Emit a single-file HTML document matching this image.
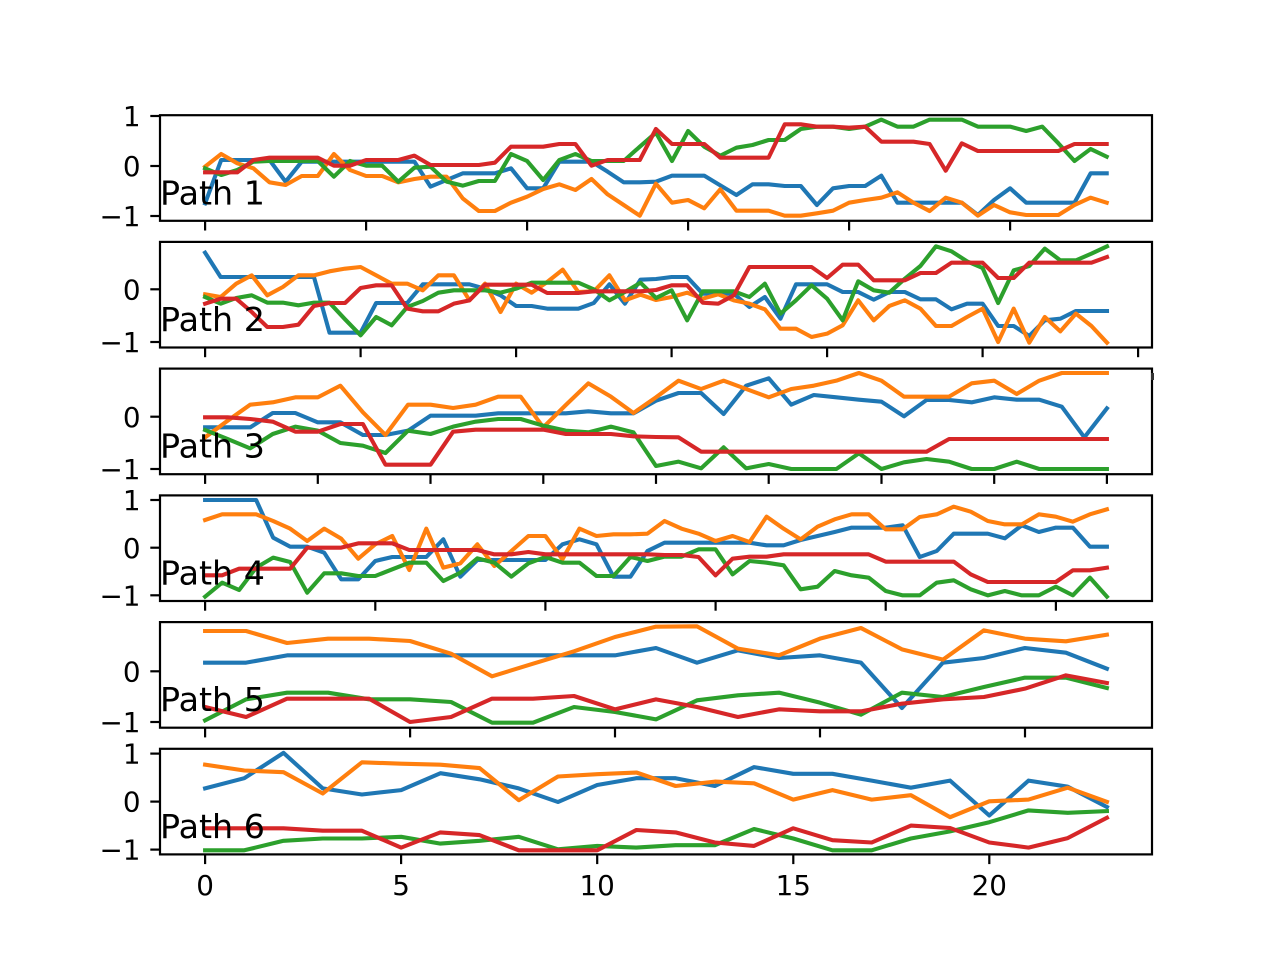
<!DOCTYPE html>
<html>
<head>
<meta charset="utf-8">
<style>
html,body{margin:0;padding:0;background:#fff;}
svg{display:block;}
text{font-family:"DejaVu Sans","Liberation Sans",sans-serif;fill:#000;}
.tl{font-size:27.8px;}
.pl{font-size:33.3px;}
polyline{fill:none;stroke-width:4.1;stroke-linejoin:round;stroke-linecap:square;}
.b{stroke:#1f77b4;} .o{stroke:#ff7f0e;} .g{stroke:#2ca02c;} .r{stroke:#d62728;}
.sp{fill:none;stroke:#000;stroke-width:2.2;}
.tk{stroke:#000;stroke-width:2.2;}
</style>
</head>
<body>
<svg width="1280" height="960" viewBox="0 0 1280 960" xmlns="http://www.w3.org/2000/svg">
<rect x="0" y="0" width="1280" height="960" fill="#fff"/>

<!-- Subplot 1 -->
<g transform="translate(205.1,105) scale(16.1,0.33333)">
<polyline vector-effect="non-scaling-stroke" class="b" points="0,295 1,165 2,165 3,165 4,165 5,230 6,170 7,170 8,170 9,170 10,170 11,170 12,170 13,170 14,245 15,225 16,205 17,205 18,205 19,190 20,250 21,250 22,170 23,170 24,170 25,200 26,232 27,232 28,230 29,212 30,212 31,212 32,241 33,270 34,238 35,238 36,243 37,243 38,300 39,250 40,243 41,243 42,212 43,293 44,293 45,293 46,293 47,293 48,330 49,285 50,250 51,293 52,293 53,293 54,293 55,205 56,205"/>
<polyline vector-effect="non-scaling-stroke" class="o" points="0,185 1,147 2,175 3,190 4,232 5,240 6,213 7,213 8,147 9,195 10,213 11,213 12,232 13,222 14,215 15,215 16,280 17,318 18,318 19,293 20,275 21,252 22,238 23,255 24,222 25,268 26,300 27,332 28,236 29,293 30,285 31,310 32,253 33,317 34,317 35,317 36,332 37,332 38,325 39,317 40,293 41,285 42,278 43,262 44,293 45,318 46,278 47,293 48,332 49,300 50,322 51,330 52,330 53,330 54,300 55,278 56,293"/>
<polyline vector-effect="non-scaling-stroke" class="g" points="0,190 1,210 2,195 3,170 4,168 5,168 6,168 7,168 8,215 9,168 10,182 11,182 12,230 13,188 14,185 15,230 16,242 17,228 18,228 19,147 20,168 21,225 22,165 23,147 24,168 25,168 26,168 27,125 28,83 29,168 30,78 31,125 32,152 33,128 34,120 35,105 36,105 37,72 38,65 39,65 40,72 41,65 42,44 43,65 44,65 45,44 46,44 47,44 48,65 49,65 50,65 51,78 52,65 53,115 54,168 55,132 56,155"/>
<polyline vector-effect="non-scaling-stroke" class="r" points="0,202 1,202 2,202 3,165 4,158 5,158 6,158 7,158 8,182 9,182 10,165 11,165 12,165 13,152 14,180 15,180 16,180 17,180 18,173 19,125 20,125 21,125 22,117 23,117 24,182 25,165 26,165 27,165 28,72 29,117 30,117 31,117 32,158 33,158 34,158 35,158 36,58 37,58 38,65 39,65 40,68 41,65 42,110 43,110 44,110 45,117 46,197 47,115 48,138 49,138 50,138 51,138 52,138 53,138 54,117 55,117 56,117"/>
</g>

<!-- Subplot 2 -->
<g transform="translate(205.1,232) scale(15.55,0.33333)">
<polyline vector-effect="non-scaling-stroke" class="b" points="0,62 1,135 2,135 3,135 4,135 5,135 6,135 7,135 8,302 9,302 10,302 11,213 12,213 13,213 14,157 15,157 16,157 17,157 18,170 19,190 20,222 21,222 22,230 23,230 24,230 25,213 26,157 27,215 28,143 29,141 30,135 31,135 32,185 33,185 34,185 35,225 36,195 37,260 38,157 39,157 40,157 41,180 42,180 43,203 44,180 45,180 46,202 47,202 48,232 49,215 50,215 51,282 52,282 53,312 54,265 55,260 56,237 57,237 58,237"/>
<polyline vector-effect="non-scaling-stroke" class="o" points="0,187 1,195 2,155 3,130 4,190 5,165 6,130 7,130 8,118 9,110 10,105 11,130 12,155 13,155 14,175 15,130 16,130 17,205 18,155 19,240 20,155 21,182 22,150 23,113 24,180 25,178 26,130 27,205 28,188 29,204 30,195 31,182 32,200 33,187 34,205 35,215 36,232 37,290 38,290 39,315 40,305 41,280 42,205 43,265 44,222 45,205 46,230 47,282 48,282 49,255 50,230 51,330 52,230 53,332 54,255 55,298 56,245 57,282 58,332"/>
<polyline vector-effect="non-scaling-stroke" class="g" points="0,195 1,215 2,198 3,190 4,212 5,212 6,220 7,212 8,212 9,262 10,310 11,255 12,280 13,225 14,207 15,182 16,175 17,175 18,175 19,182 20,170 21,152 22,152 23,152 24,152 25,172 26,205 27,180 28,152 29,198 30,175 31,265 32,178 33,178 34,178 35,195 36,155 37,245 38,205 39,160 40,200 41,265 42,148 43,175 44,182 45,140 46,102 47,43 48,58 49,88 50,108 51,213 52,115 53,102 54,50 55,85 56,85 57,65 58,43"/>
<polyline vector-effect="non-scaling-stroke" class="r" points="0,215 1,200 2,200 3,240 4,285 5,285 6,278 7,222 8,213 9,213 10,168 11,160 12,160 13,230 14,238 15,238 16,215 17,205 18,158 19,158 20,158 21,158 22,183 23,183 24,183 25,178 26,178 27,178 28,178 29,174 30,160 31,160 32,212 33,215 34,190 35,105 36,105 37,105 38,105 39,105 40,138 41,98 42,98 43,145 44,145 45,145 46,123 47,123 48,92 49,92 50,92 51,138 52,138 53,92 54,92 55,92 56,92 57,92 58,75"/>
</g>

<!-- Subplot 3 -->
<g transform="translate(205.1,359) scale(22.545,0.33333)">
<polyline vector-effect="non-scaling-stroke" class="b" points="0,205 1,205 2,205 3,162 4,162 5,190 6,190 7,228 8,228 9,215 10,170 11,170 12,170 13,163 14,163 15,163 16,163 17,157 18,163 19,163 20,125 21,102 22,102 23,165 24,80 25,58 26,137 27,108 28,115 29,122 30,128 31,172 32,123 33,123 34,130 35,115 36,122 37,122 38,143 39,235 40,148"/>
<polyline vector-effect="non-scaling-stroke" class="o" points="0,235 1,185 2,137 3,130 4,115 5,115 6,80 7,160 8,228 9,137 10,137 11,147 12,137 13,113 14,113 15,205 16,138 17,73 18,113 19,162 20,115 21,65 22,90 23,65 24,90 25,115 26,90 27,80 28,65 29,42 30,65 31,113 32,113 33,113 34,73 35,65 36,105 37,65 38,42 39,42 40,42"/>
<polyline vector-effect="non-scaling-stroke" class="g" points="0,213 1,240 2,268 3,225 4,203 5,215 6,252 7,260 8,282 9,215 10,225 11,203 12,188 13,180 14,180 15,200 16,215 17,220 18,203 19,220 20,321 21,308 22,328 23,265 24,328 25,315 26,330 27,330 28,330 29,283 30,330 31,310 32,300 33,308 34,330 35,330 36,308 37,330 38,330 39,330 40,330"/>
<polyline vector-effect="non-scaling-stroke" class="r" points="0,175 1,175 2,180 3,188 4,218 5,218 6,195 7,195 8,317 9,317 10,317 11,218 12,212 13,212 14,212 15,212 16,225 17,225 18,225 19,232 20,234 21,235 22,278 23,278 24,278 25,278 26,278 27,278 28,278 29,278 30,278 31,278 32,278 33,240 34,240 35,240 36,240 37,240 38,240 39,240 40,240"/>
</g>

<!-- Subplot 4 -->
<g transform="translate(205.1,486) scale(17.015,0.33333)">
<polyline vector-effect="non-scaling-stroke" class="b" points="0,42 1,42 2,42 3,42 4,155 5,182 6,182 7,200 8,280 9,280 10,225 11,213 12,213 13,213 14,160 15,272 16,222 17,222 18,222 19,222 20,222 21,175 22,160 23,175 24,272 25,272 26,195 27,170 28,170 29,170 30,170 31,170 32,170 33,178 34,178 35,162 36,150 37,138 38,125 39,125 40,125 41,118 42,213 43,195 44,143 45,143 46,143 47,157 48,118 49,138 50,125 51,125 52,182 53,182"/>
<polyline vector-effect="non-scaling-stroke" class="o" points="0,102 1,85 2,85 3,85 4,105 5,128 6,165 7,128 8,158 9,218 10,175 11,150 12,252 13,128 14,245 15,232 16,175 17,240 18,195 19,150 20,150 21,220 22,128 23,150 24,145 25,145 26,143 27,105 28,128 29,143 30,165 31,150 32,168 33,92 34,128 35,160 36,122 37,100 38,85 39,85 40,130 41,130 42,93 43,85 44,62 45,77 46,105 47,115 48,115 49,85 50,92 51,107 52,85 53,70"/>
<polyline vector-effect="non-scaling-stroke" class="g" points="0,332 1,290 2,312 3,245 4,215 5,228 6,320 7,262 8,262 9,270 10,270 11,250 12,230 13,230 14,285 15,260 16,217 17,230 18,272 19,232 20,213 21,230 22,230 23,270 24,270 25,213 26,225 27,212 28,212 29,190 30,190 31,265 32,225 33,230 34,238 35,310 36,302 37,255 38,268 39,275 40,315 41,328 42,328 43,290 44,283 45,310 46,328 47,315 48,328 49,328 50,302 51,328 52,275 53,332"/>
<polyline vector-effect="non-scaling-stroke" class="r" points="0,268 1,268 2,248 3,248 4,248 5,248 6,185 7,185 8,185 9,172 10,172 11,172 12,192 13,192 14,192 15,192 16,192 17,205 18,205 19,198 20,205 21,205 22,205 23,205 24,205 25,205 26,205 27,207 28,207 29,213 30,268 31,218 32,212 33,212 34,205 35,205 36,205 37,205 38,205 39,205 40,227 41,227 42,227 43,227 44,227 45,265 46,288 47,288 48,288 49,288 50,288 51,253 52,253 53,245"/>
</g>

<!-- Subplot 5 -->
<g transform="translate(205.1,612) scale(40.99,0.33333)">
<polyline vector-effect="non-scaling-stroke" class="b" points="0,152 1,152 2,130 3,130 4,130 5,130 6,130 7,130 8,130 9,130 10,130 11,108 12,152 13,115 14,138 15,130 16,152 17,288 18,152 19,138 20,108 21,122 22,170"/>
<polyline vector-effect="non-scaling-stroke" class="o" points="0,57 1,57 2,93 3,80 4,80 5,87 6,125 7,193 8,155 9,118 10,75 11,44 12,43 13,110 14,130 15,80 16,48 17,112 18,143 19,55 20,80 21,88 22,68"/>
<polyline vector-effect="non-scaling-stroke" class="g" points="0,325 1,262 2,242 3,242 4,262 5,262 6,270 7,332 8,332 9,285 10,300 11,322 12,265 13,250 14,242 15,272 16,308 17,242 18,255 19,225 20,197 21,197 22,228"/>
<polyline vector-effect="non-scaling-stroke" class="r" points="0,285 1,315 2,260 3,260 4,260 5,330 6,315 7,260 8,260 9,252 10,292 11,262 12,285 13,315 14,292 15,298 16,298 17,275 18,262 19,255 20,230 21,190 22,213"/>
</g>

<!-- Subplot 6 -->
<g transform="translate(205.1,0) scale(39.21,1)">
<polyline vector-effect="non-scaling-stroke" class="b" points="0,788.4 1,778.2 2,752.9 3,788.4 4,794.5 5,790.1 6,773.2 7,779.3 8,788.4 9,802 10,785 11,778.2 12,778.2 13,786 14,767.1 15,773.8 16,773.8 17,780.6 18,787.7 19,780.6 20,815.5 21,780.6 22,786.7 23,807"/>
<polyline vector-effect="non-scaling-stroke" class="o" points="0,764.7 1,770.5 2,772.2 3,793.5 4,762.3 5,763.7 6,764.7 7,768.1 8,800.2 9,776.5 10,774.2 11,772.5 12,786 13,781.6 14,783.3 15,799.6 16,790.1 17,799.6 18,795.2 19,817.2 20,801.3 21,799.6 22,787.7 23,801.9"/>
<polyline vector-effect="non-scaling-stroke" class="g" points="0,850.3 1,850.3 2,840.8 3,838.5 4,838.5 5,836.8 6,843.6 7,840.8 8,836.8 9,849.3 10,845.9 11,847.6 12,845.2 13,845.2 14,829 15,838.5 16,850.3 17,850.3 18,838.5 19,831.4 20,822.2 21,810.4 22,812.8 23,811.1"/>
<polyline vector-effect="non-scaling-stroke" class="r" points="0,828.3 1,828.3 2,828.3 3,830.7 4,830.7 5,847.6 6,832.4 7,835.1 8,850.3 9,850.3 10,850.3 11,830 12,832.4 13,842.5 14,845.9 15,828.3 16,840.2 17,842.5 18,825.6 19,828 20,842.5 21,847.6 22,838.1 23,817.8"/>
</g>

<!-- Spines -->
<rect class="sp" x="160" y="115.2" width="992" height="105.6"/>
<rect class="sp" x="160" y="241.9" width="992" height="105.6"/>
<rect class="sp" x="160" y="368.6" width="992" height="105.6"/>
<rect class="sp" x="160" y="495.4" width="992" height="105.6"/>
<rect class="sp" x="160" y="622.1" width="992" height="105.6"/>
<rect class="sp" x="160" y="748.8" width="992" height="105.6"/>
<rect x="1151" y="373" width="3" height="7" fill="#333"/>

<!-- Y ticks -->
<g class="tk">
<line x1="150.3" y1="116" x2="160" y2="116"/><line x1="150.3" y1="166" x2="160" y2="166"/><line x1="150.3" y1="216" x2="160" y2="216"/>
<line x1="150.3" y1="289.3" x2="160" y2="289.3"/><line x1="150.3" y1="342" x2="160" y2="342"/>
<line x1="150.3" y1="416.7" x2="160" y2="416.7"/><line x1="150.3" y1="469" x2="160" y2="469"/>
<line x1="150.3" y1="500" x2="160" y2="500"/><line x1="150.3" y1="547.7" x2="160" y2="547.7"/><line x1="150.3" y1="595.3" x2="160" y2="595.3"/>
<line x1="150.3" y1="671.3" x2="160" y2="671.3"/><line x1="150.3" y1="722" x2="160" y2="722"/>
<line x1="150.3" y1="753.6" x2="160" y2="753.6"/><line x1="150.3" y1="801.6" x2="160" y2="801.6"/><line x1="150.3" y1="849.6" x2="160" y2="849.6"/>
</g>

<!-- X ticks -->
<g class="tk">
<line x1="205.1" y1="220.8" x2="205.1" y2="230.5"/><line x1="366.1" y1="220.8" x2="366.1" y2="230.5"/><line x1="527.1" y1="220.8" x2="527.1" y2="230.5"/><line x1="688.1" y1="220.8" x2="688.1" y2="230.5"/><line x1="849.1" y1="220.8" x2="849.1" y2="230.5"/><line x1="1010.1" y1="220.8" x2="1010.1" y2="230.5"/>
<line x1="205.1" y1="347.5" x2="205.1" y2="357.2"/><line x1="360.6" y1="347.5" x2="360.6" y2="357.2"/><line x1="516.1" y1="347.5" x2="516.1" y2="357.2"/><line x1="671.6" y1="347.5" x2="671.6" y2="357.2"/><line x1="827.1" y1="347.5" x2="827.1" y2="357.2"/><line x1="982.6" y1="347.5" x2="982.6" y2="357.2"/><line x1="1138.1" y1="347.5" x2="1138.1" y2="357.2"/>
<line x1="205.1" y1="474.2" x2="205.1" y2="483.9"/><line x1="317.8" y1="474.2" x2="317.8" y2="483.9"/><line x1="430.5" y1="474.2" x2="430.5" y2="483.9"/><line x1="543.3" y1="474.2" x2="543.3" y2="483.9"/><line x1="656" y1="474.2" x2="656" y2="483.9"/><line x1="768.7" y1="474.2" x2="768.7" y2="483.9"/><line x1="881.5" y1="474.2" x2="881.5" y2="483.9"/><line x1="994.2" y1="474.2" x2="994.2" y2="483.9"/><line x1="1106.9" y1="474.2" x2="1106.9" y2="483.9"/>
<line x1="205.1" y1="601" x2="205.1" y2="610.7"/><line x1="375.3" y1="601" x2="375.3" y2="610.7"/><line x1="545.4" y1="601" x2="545.4" y2="610.7"/><line x1="715.6" y1="601" x2="715.6" y2="610.7"/><line x1="885.7" y1="601" x2="885.7" y2="610.7"/><line x1="1055.9" y1="601" x2="1055.9" y2="610.7"/>
<line x1="205.1" y1="727.7" x2="205.1" y2="737.4"/><line x1="410.1" y1="727.7" x2="410.1" y2="737.4"/><line x1="615" y1="727.7" x2="615" y2="737.4"/><line x1="820" y1="727.7" x2="820" y2="737.4"/><line x1="1025" y1="727.7" x2="1025" y2="737.4"/>
<line x1="205.1" y1="854.4" x2="205.1" y2="864.1"/><line x1="401.1" y1="854.4" x2="401.1" y2="864.1"/><line x1="597.2" y1="854.4" x2="597.2" y2="864.1"/><line x1="793.3" y1="854.4" x2="793.3" y2="864.1"/><line x1="989.3" y1="854.4" x2="989.3" y2="864.1"/>
</g>

<!-- Y tick labels -->
<g class="tl" text-anchor="end">
<text x="140.5" y="126.1">1</text><text x="140.5" y="176.1">0</text><text x="140.5" y="226.1">−1</text>
<text x="140.5" y="299.4">0</text><text x="140.5" y="352.1">−1</text>
<text x="140.5" y="426.8">0</text><text x="140.5" y="479.1">−1</text>
<text x="140.5" y="510.1">1</text><text x="140.5" y="557.8">0</text><text x="140.5" y="605.4">−1</text>
<text x="140.5" y="681.4">0</text><text x="140.5" y="732.1">−1</text>
<text x="140.5" y="763.7">1</text><text x="140.5" y="811.7">0</text><text x="140.5" y="859.7">−1</text>
</g>

<!-- X tick labels -->
<g class="tl" text-anchor="middle">
<text x="205.1" y="895">0</text><text x="401.1" y="895">5</text><text x="597.2" y="895">10</text><text x="793.3" y="895">15</text><text x="989.3" y="895">20</text>
</g>

<!-- Path labels -->
<g class="pl">
<text x="160" y="204.3">Path 1</text>
<text x="160" y="331">Path 2</text>
<text x="160" y="457.7">Path 3</text>
<text x="160" y="584.5">Path 4</text>
<text x="160" y="711.2">Path 5</text>
<text x="160" y="837.9">Path 6</text>
</g>
</svg>
</body>
</html>
